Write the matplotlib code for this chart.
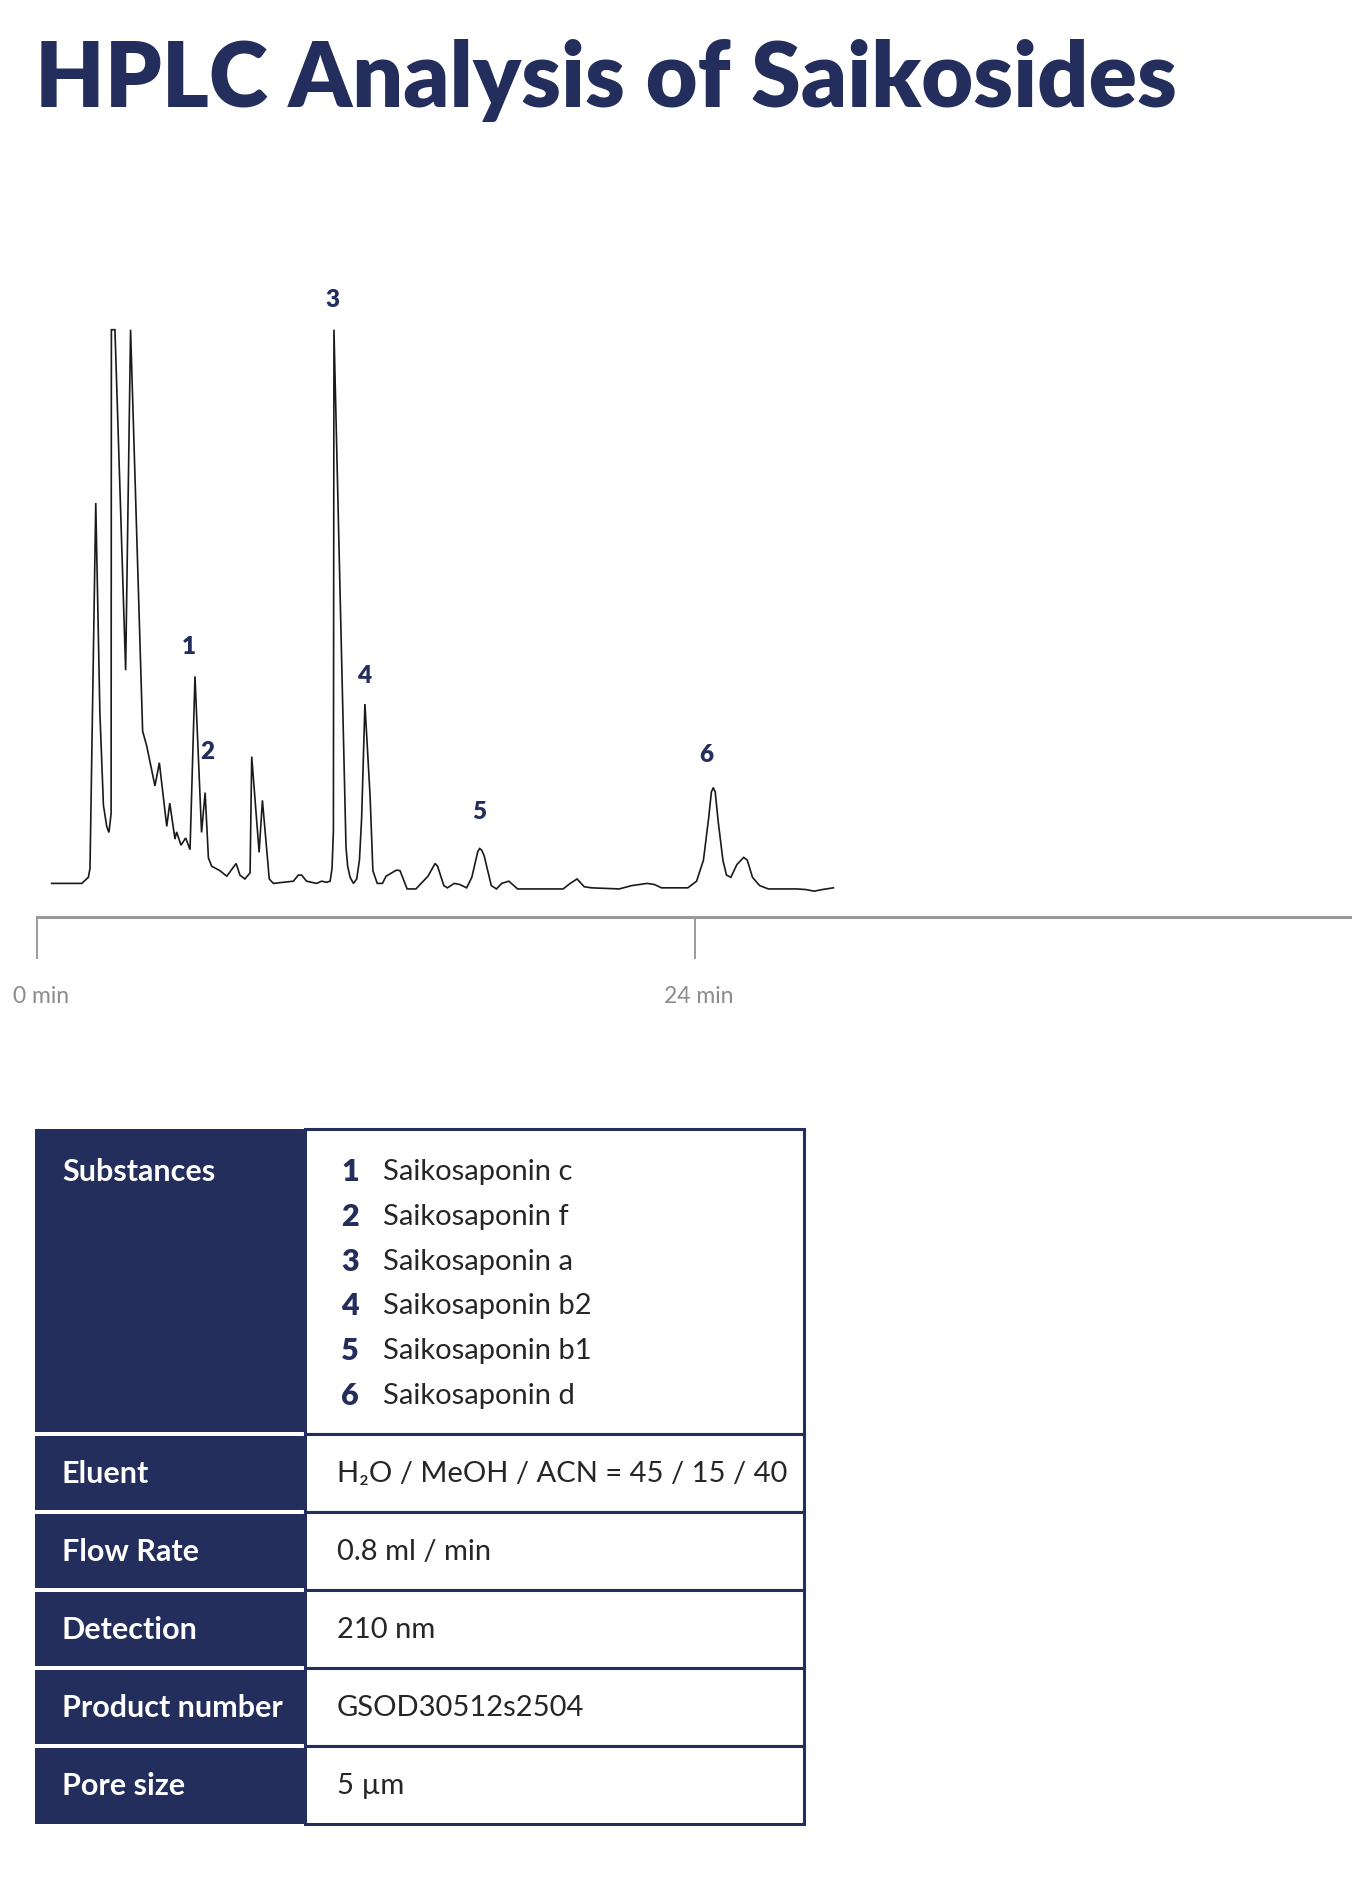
import matplotlib
matplotlib.use("Agg")
import matplotlib.pyplot as plt
from matplotlib.patches import Rectangle
from matplotlib.transforms import ScaledTranslation

plt.rcParams['font.family'] = ['Lato', 'DejaVu Sans']

NAVY = "#232e5c"
GRAY = "#9b9b9b"

# --- chromatogram trace (retention time in min, relative signal) ---
times = [0.53, 1.63, 1.87, 1.93, 2.14, 2.29, 2.42, 2.54, 2.62, 2.70, 2.71, 2.84,
         3.23, 3.41, 3.85, 4.00, 4.30, 4.46, 4.73, 4.84, 5.03, 5.09, 5.25, 5.42,
         5.58, 5.76, 6.00, 6.13, 6.25, 6.37, 6.67, 6.92, 7.26, 7.40, 7.58, 7.77,
         7.83, 8.10, 8.22, 8.47, 8.62, 9.35, 9.53, 9.65, 9.83, 10.20, 10.38, 10.56,
         10.69, 10.76, 10.81, 10.83, 11.27, 11.33, 11.42, 11.54, 11.66, 11.76, 11.84, 11.96,
         12.15, 12.25, 12.41, 12.60, 12.73, 13.11, 13.24, 13.50, 13.82, 14.26, 14.52, 14.61,
         14.84, 14.97, 15.22, 15.42, 15.67, 15.86, 16.08, 16.15, 16.22, 16.31, 16.57, 16.76,
         16.95, 17.21, 17.53, 19.19, 19.45, 19.70, 19.96, 20.22, 21.24, 21.69, 22.26, 22.52,
         22.78, 23.74, 24.06, 24.31, 24.50, 24.60, 24.67, 24.74, 24.85, 25.02, 25.15, 25.31,
         25.53, 25.78, 25.91, 26.10, 26.36, 26.68, 27.70, 28.03, 28.35, 28.66, 29.05]
signal = [0.0, 0.0, 0.011, 0.027, 0.687, 0.309, 0.141, 0.103, 0.092, 0.126, 1.0, 1.0,
          0.385, 1.0, 0.275, 0.248, 0.176, 0.218, 0.103, 0.145, 0.080, 0.093, 0.069, 0.082,
          0.061, 0.374, 0.092, 0.164, 0.046, 0.031, 0.023, 0.013, 0.036, 0.015, 0.008, 0.019,
          0.229, 0.056, 0.150, 0.008, 0.0, 0.004, 0.015, 0.015, 0.004, 0.0, 0.004, 0.002,
          0.004, 0.027, 0.095, 1.0, 0.065, 0.031, 0.011, 0.0, 0.008, 0.042, 0.118, 0.324,
          0.156, 0.023, 0.0, 0.0, 0.013, 0.024, 0.023, -0.010, -0.010, 0.013, 0.036, 0.031,
          -0.004, -0.008, 0.0, -0.002, -0.008, 0.011, 0.058, 0.063, 0.060, 0.050, -0.004, -0.010,
          0.0, 0.004, -0.010, -0.010, 0.0, 0.008, -0.006, -0.008, -0.010, -0.004, 0.0, -0.002,
          -0.008, -0.008, 0.004, 0.042, 0.118, 0.165, 0.173, 0.165, 0.111, 0.042, 0.015, 0.011,
          0.034, 0.047, 0.042, 0.011, -0.004, -0.010, -0.010, -0.011, -0.014, -0.011, -0.008]

peak_ids = ["1", "2", "3", "4", "5", "6"]
label_t = [5.54, 6.19, 10.77, 11.94, 16.14, 24.42]
label_h = [0.429, 0.240, 1.056, 0.376, 0.131, 0.234]

tick_min = [0, 24]
tick_labels = ["0 min", "24 min"]

# --- method table ---
substances = ["Saikosaponin c", "Saikosaponin f", "Saikosaponin a",
              "Saikosaponin b2", "Saikosaponin b1", "Saikosaponin d"]
param_names = ["Eluent", "Flow Rate", "Detection", "Product number", "Pore size"]
param_values = ["H\u2082O / MeOH / ACN = 45 / 15 / 40", "0.8 ml / min", "210 nm",
                "GSOD30512s2504", "5 \u00b5m"]

W, H = 1352, 1899
fig = plt.figure(figsize=(W / 100, H / 100), dpi=100)

# full-figure layer in pixel units for title and table
lay = fig.add_axes([0, 0, 1, 1])
lay.set_xlim(0, W)
lay.set_ylim(H, 0)
lay.axis("off")

lay.text(35, 107, "HPLC Analysis of Saikosides", fontsize=64.5, fontweight="heavy",
         color=NAVY, ha="left", va="baseline")

# table
x0, xm, x1 = 35, 305, 804
row_edges = [1130, 1435, 1513, 1591, 1669, 1747, 1825]
gap = 4
n_rows = len(row_edges) - 1
for i in range(n_rows):
    yt, yb = row_edges[i], row_edges[i + 1]
    top = yt + (gap / 2 if i > 0 else 0)
    bot = yb - (gap / 2 if i < n_rows - 1 else 0)
    lay.add_patch(Rectangle((x0, top), xm - x0, bot - top, facecolor=NAVY, edgecolor="none"))
    lay.add_patch(Rectangle((xm, yt), x1 - xm, yb - yt, facecolor="white",
                            edgecolor=NAVY, linewidth=2.2))

lay.text(62, 1172, "Substances", fontsize=22, fontweight="bold", color="white",
         ha="left", va="center")
for k, name in enumerate(substances):
    y = 1172 + k * 44.8
    lay.text(350, y, peak_ids[k], fontsize=22, fontweight="heavy", color=NAVY,
             ha="center", va="center")
    lay.text(383, y, name, fontsize=21, color="#262626", ha="left", va="center")

for i, (name, val) in enumerate(zip(param_names, param_values)):
    yc = (row_edges[i + 1] + row_edges[i + 2]) / 2
    lay.text(62, yc, name, fontsize=22, fontweight="bold", color="white",
             ha="left", va="center")
    lay.text(337, yc, val, fontsize=21, color="#262626", ha="left", va="center")

# chromatogram axes: 0 min at x=37 px, 27.41 px per min; baseline at y=884 px, 553.7 px per unit
px_per_min = 27.41
px_per_unit = 553.7
x_zero = 37.1
y_base = 884.4
ymin, ymax = -0.3, 1.15
ax_left = x_zero / W
ax_w = 1 - ax_left
ax_bottom = 1 - (y_base - ymin * px_per_unit) / H
ax_h = (ymax - ymin) * px_per_unit / H
ax = fig.add_axes([ax_left, ax_bottom, ax_w, ax_h])
ax.set_facecolor("none")
ax.set_xlim(0, (W - x_zero) / px_per_min)
ax.set_ylim(ymin, ymax)

ax.plot(times, signal, color="#1a1a1a", linewidth=1.2, solid_joinstyle="miter")

for pid, t, h in zip(peak_ids, label_t, label_h):
    ax.text(t, h, pid, fontsize=17.5, fontweight="heavy", color=NAVY,
            ha="center", va="center")

for side in ["top", "right", "left"]:
    ax.spines[side].set_visible(False)
ax.spines["bottom"].set_position(("data", -0.0612))
ax.spines["bottom"].set_color(GRAY)
ax.spines["bottom"].set_linewidth(2.2)
ax.set_yticks([])
ax.set_xticks(tick_min)
ax.set_xticklabels(tick_labels)
ax.tick_params(axis="x", direction="out", length=30.5, width=1.4, color=GRAY,
               labelcolor="#8c8c8c", labelsize=16.5, pad=18)
shift = ScaledTranslation(0.04, 0, fig.dpi_scale_trans)
for lbl in ax.get_xticklabels():
    lbl.set_transform(lbl.get_transform() + shift)

fig.savefig("out.png", dpi=100)
